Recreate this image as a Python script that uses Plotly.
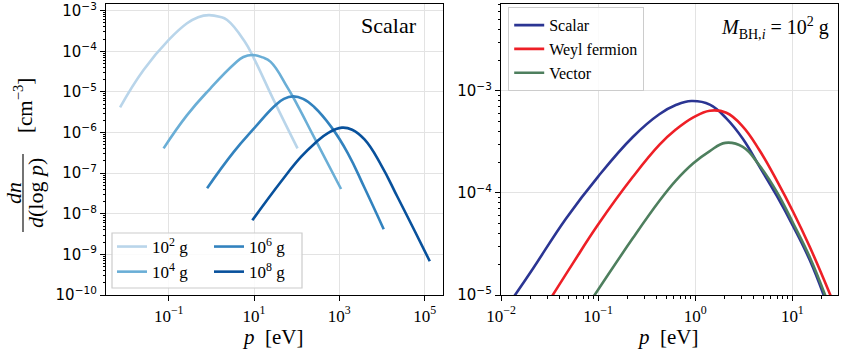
import numpy as np
import plotly.graph_objects as go

W, H = 843, 352

# Left panel: scalar spectra for four initial BH masses
# values are log10(p / eV) and log10(dn/dlogp / cm^-3)
masses = ["10<sup>2</sup> g", "10<sup>4</sup> g", "10<sup>6</sup> g", "10<sup>8</sup> g"]
logp_m = [
    [-2.14, -1.59, -1.00, -0.57, -0.31, -0.06, 0.19, 0.37, 0.77, 1.00, 1.47, 2.02],
    [-1.12, -0.57, -0.02, 0.53, 0.75, 0.96, 1.20, 1.39, 1.79, 2.02, 2.41, 3.04],
    [-0.10, 0.53, 1.00, 1.47, 1.70, 1.92, 2.15, 2.41, 2.81, 3.20, 3.59, 4.04],
    [0.96, 1.63, 2.10, 2.41, 2.75, 3.06, 3.30, 3.59, 3.98, 4.37, 4.77, 5.12],
]
logn_m = [
    [-5.38, -4.46, -3.72, -3.31, -3.16, -3.11, -3.15, -3.23, -3.74, -4.18, -5.22, -6.39],
    [-6.39, -5.57, -4.91, -4.32, -4.14, -4.09, -4.15, -4.26, -4.90, -5.33, -6.12, -7.39],
    [-7.37, -6.47, -5.90, -5.36, -5.17, -5.11, -5.17, -5.37, -5.86, -6.51, -7.36, -8.38],
    [-8.16, -7.21, -6.60, -6.28, -6.00, -5.88, -5.93, -6.17, -6.80, -7.60, -8.43, -9.17],
]
cores_m = ["#b9d5ea", "#6aaed6", "#3282be", "#08519c"]

# Right panel: M_BH,i = 1e2 g, three particle spins
species = ["Scalar", "Weyl fermion", "Vector"]
logp_s = [
    [-1.87, -1.67, -1.33, -1.00, -0.64, -0.37, -0.20, -0.04, 0.15, 0.32, 0.49, 0.66, 0.84, 1.01, 1.18, 1.33],
    [-1.48, -1.26, -1.00, -0.64, -0.37, -0.20, -0.02, 0.15, 0.32, 0.49, 0.66, 0.84, 1.01, 1.18, 1.40],
    [-1.05, -0.64, -0.37, -0.20, -0.02, 0.15, 0.31, 0.49, 0.66, 0.84, 1.01, 1.18, 1.345],
]
logn_s = [
    [-5.02, -4.74, -4.25, -3.84, -3.45, -3.23, -3.14, -3.10, -3.135, -3.27, -3.47, -3.74, -4.03, -4.33, -4.66, -5.02],
    [-5.02, -4.69, -4.31, -3.84, -3.53, -3.38, -3.26, -3.195, -3.215, -3.35, -3.58, -3.88, -4.19, -4.53, -5.02],
    [-5.02, -4.44, -4.08, -3.88, -3.71, -3.59, -3.51, -3.55, -3.73, -3.99, -4.30, -4.63, -5.02],
]
cores_s = ["#2b3593", "#ee1f26", "#4e7f5e"]

# tick labels
xt_esq = [0.1, 10, 1e3, 1e5]
xt_esq_txt = ["10<sup>−1</sup>", "10<sup>1</sup>", "10<sup>3</sup>", "10<sup>5</sup>"]
yt_esq = [10.0 ** k for k in range(-10, -2)]
yt_esq_txt = ["10<sup>−%d</sup>" % k for k in range(10, 2, -1)]
xt_dir = [1e-2, 1e-1, 1, 10]
xt_dir_txt = ["10<sup>−2</sup>", "10<sup>−1</sup>", "10<sup>0</sup>", "10<sup>1</sup>"]
yt_dir = [1e-5, 1e-4, 1e-3]
yt_dir_txt = ["10<sup>−5</sup>", "10<sup>−4</sup>", "10<sup>−3</sup>"]


def menores(k0, k1):
    return [m * 10.0 ** k for k in range(k0, k1) for m in range(2, 10)]


SERIF = "Liberation Serif"
SANS = "DejaVu Sans"

fig = go.Figure()

for i in range(4):
    fig.add_trace(go.Scatter(
        x=10 ** np.array(logp_m[i]), y=10 ** np.array(logn_m[i]),
        mode="lines", line=dict(color=cores_m[i], width=2.6, shape="spline", smoothing=1.3),
        name=masses[i], xaxis="x", yaxis="y",
        legend="legend" if i < 2 else "legend2",
    ))

for i in range(3):
    fig.add_trace(go.Scatter(
        x=10 ** np.array(logp_s[i]), y=10 ** np.array(logn_s[i]),
        mode="lines", line=dict(color=cores_s[i], width=2.6, shape="spline", smoothing=1.2),
        name=species[i], xaxis="x2", yaxis="y2", legend="legend3",
    ))

# eixos fantasmas só para os ticks menores
for xa, ya in [("x", "y3"), ("x3", "y2"), ("x2", "y4")]:
    fig.add_trace(go.Scatter(x=[], y=[], xaxis=xa, yaxis=ya, showlegend=False, hoverinfo="skip"))

eixo = dict(
    type="log", showline=True, linecolor="black", linewidth=1.3, mirror=True,
    ticks="outside", ticklen=5, tickwidth=1.2, tickcolor="black",
    showgrid=True, gridcolor="#e3e3e3", gridwidth=1,
    zeroline=False, automargin=False, ticklabeloverflow="allow",
)
fantasma = dict(
    type="log", showline=False, showgrid=False, zeroline=False, showticklabels=False,
    ticks="outside", ticklen=2.5, tickwidth=0.8, tickcolor="black", automargin=False,
)

dom_esq = [106 / W, 443 / W]
dom_dir = [501 / W, 838 / W]
dom_y = [1 - 295 / H, 1 - 4 / H]
rx_esq, ry_esq = [-2.47, 5.43], [-10, -2.835]
rx_dir, ry_dir = [-2, 1.47], [-5, -2.15]

fig.update_layout(
    template="none",
    width=W, height=H,
    margin=dict(l=0, r=0, t=0, b=0, autoexpand=False),
    plot_bgcolor="white", paper_bgcolor="white",
    xaxis=dict(eixo, domain=dom_esq, range=rx_esq, tickvals=xt_esq, ticktext=xt_esq_txt,
               tickfont=dict(family=SERIF, size=17, color="black"), anchor="y"),
    yaxis=dict(eixo, domain=dom_y, range=ry_esq, tickvals=yt_esq, ticktext=yt_esq_txt,
               tickfont=dict(family=SANS, size=15, color="black"), anchor="x"),
    xaxis2=dict(eixo, domain=dom_dir, range=rx_dir, tickvals=xt_dir, ticktext=xt_dir_txt,
                tickfont=dict(family=SERIF, size=17, color="black"), anchor="y2"),
    yaxis2=dict(eixo, domain=dom_y, range=ry_dir, tickvals=yt_dir, ticktext=yt_dir_txt,
                tickfont=dict(family=SANS, size=15, color="black"), anchor="x2"),
    yaxis3=dict(fantasma, overlaying="y", anchor="x", side="left", range=ry_esq,
                tickvals=menores(-10, -2)),
    xaxis3=dict(fantasma, overlaying="x2", anchor="y2", side="bottom", range=rx_dir,
                tickvals=menores(-2, 2)),
    yaxis4=dict(fantasma, overlaying="y2", anchor="x2", side="left", range=ry_dir,
                tickvals=menores(-5, -2)),
    legend=dict(x=112 / W, y=1 - 229 / H, xanchor="left", yanchor="top",
                bgcolor="rgba(0,0,0,0)", borderwidth=0, tracegroupgap=0,
                font=dict(family=SERIF, size=17, color="black")),
    legend2=dict(x=209 / W, y=1 - 229 / H, xanchor="left", yanchor="top",
                 bgcolor="rgba(0,0,0,0)", borderwidth=0, tracegroupgap=0,
                 font=dict(family=SERIF, size=17, color="black")),
    legend3=dict(x=508 / W, y=1 - 7 / H, xanchor="left", yanchor="top",
                 bgcolor="rgba(255,255,255,0.85)", bordercolor="#cccccc", borderwidth=1.2,
                 tracegroupgap=0, font=dict(family=SERIF, size=16, color="black")),
    showlegend=True,
)

# caixa do legend esquerdo
fig.add_shape(type="rect", xref="paper", yref="paper",
              x0=112 / W, x1=302 / W, y0=1 - 288 / H, y1=1 - 233 / H,
              line=dict(color="#cccccc", width=1.2), fillcolor="rgba(255,255,255,0.85)",
              layer="above")

# traço da fração no título do eixo y
fig.add_shape(type="line", xref="paper", yref="paper",
              x0=23 / W, x1=23 / W, y0=1 - 232 / H, y1=1 - 154 / H,
              line=dict(color="black", width=1.1))


def nota(texto, px, py, tamanho=17, angulo=0, fam=SERIF):
    fig.add_annotation(text=texto, x=px / W, y=1 - py / H, xref="paper", yref="paper",
                       xanchor="center", yanchor="middle", showarrow=False, textangle=angulo,
                       font=dict(family=fam, size=tamanho, color="black"))


nota("<i>dn</i>", 13, 193, 22, -90)
nota("<i>d</i>(log <i>p</i>)", 35, 193, 22, -90)
nota("[cm<sup>−3</sup>]", 23, 106, 21, -90)
nota("<i>p</i>  [eV]", 272, 337, 21)
nota("<i>p</i>  [eV]", 667, 337, 21)
nota("Scalar", 389, 26, 22)
nota("<i>M</i><sub>BH,<i>i</i></sub> = 10<sup>2</sup> g", 775, 28, 20)

# a página tem margem de 8px no body; zera para alinhar a figura ao canto
fig.write_html("out.html", config={"displayModeBar": False},
               post_script="document.body.style.margin='0';document.body.style.overflow='hidden';")
